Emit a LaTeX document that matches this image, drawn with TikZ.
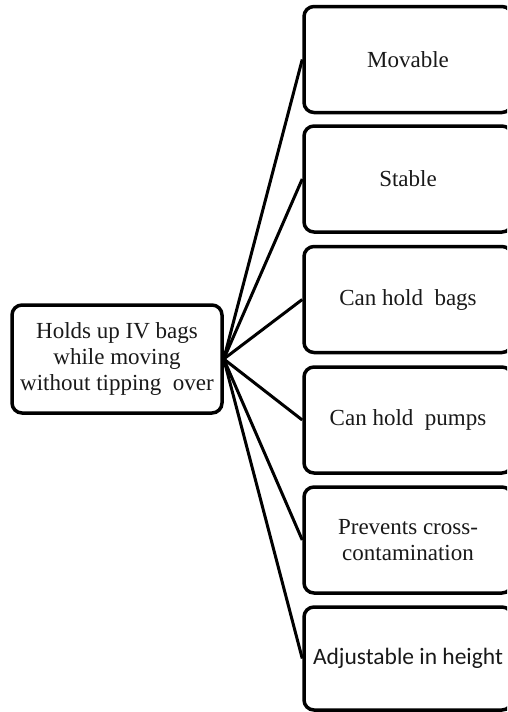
\documentclass[tikz,border=0pt]{standalone}
\usepackage{fontspec}
\setmainfont{Liberation Serif}
\newfontfamily\calibrifont{Carlito}
\begin{document}
\begin{tikzpicture}[x=1pt,y=-1pt,
  box/.style={draw=black, line width=3.5pt, rounded corners=10pt, fill=white,
    align=center, inner sep=0pt, font=\fontsize{23}{26}\selectfont, text=black!90},
  rbox/.style={box, minimum width=208pt, minimum height=106pt},
  link/.style={line width=3pt, black}]
\useasboundingbox (0,0) rectangle (507,712);
\clip (0,0) rectangle (507,712);
\node[box, minimum width=210pt, minimum height=108pt] (root) at (117,359)
  {Holds up IV bags\\while moving\\without tipping\ \ over};
\node[rbox] (b1) at (408,59.5) {Movable};
\node[rbox] (b2) at (408,179) {Stable};
\node[rbox] (b3) at (408,299.5) {Can hold\ \ bags};
\node[rbox] (b4) at (408,420) {Can hold\ \ pumps};
\node[rbox] (b5) at (408,540) {Prevents cross-\\contamination};
\node[rbox, minimum height=103pt, font=\calibrifont\fontsize{23.5}{26}\selectfont] (b6) at (408,658.5) {Adjustable in height};
\foreach \b in {b1,b2,b3,b4,b5,b6}
  \draw[link] (root.east) -- (\b.west);
\end{tikzpicture}
\end{document}
